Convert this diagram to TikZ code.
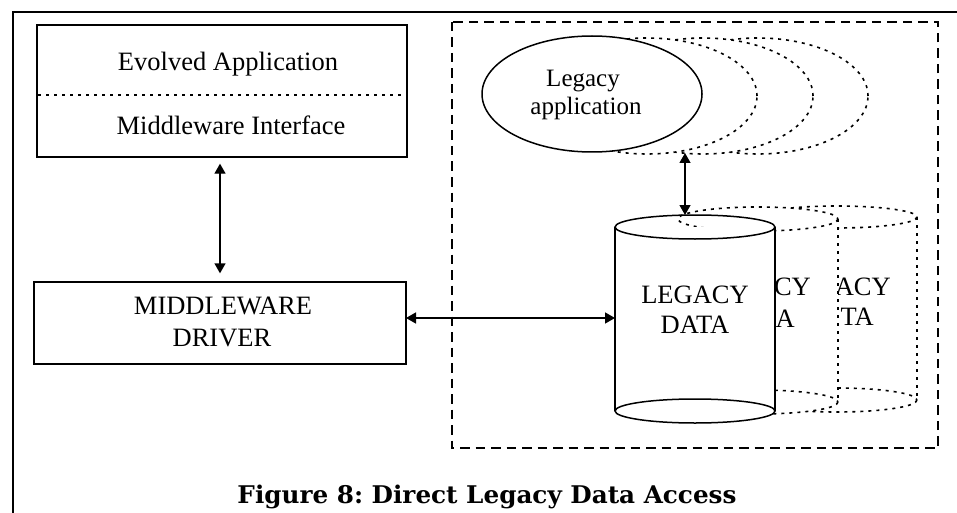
\documentclass[tikz,border=0pt]{standalone}
\usepackage{graphicx}
\usepackage{fontspec}
\setmainfont{Liberation Serif}
\newfontfamily\capfont{DejaVu Serif}
\usetikzlibrary{arrows.meta,shapes.geometric}
\frenchspacing
\tikzset{
  solidbox/.style={draw, line width=1.4pt, inner sep=0pt, fill=white},
  dotline/.style={line width=1.6pt, dash pattern=on 3pt off 5pt},
  dashline/.style={line width=1.6pt, dash pattern=on 9.5pt off 6pt},
  biarrow/.style={line width=1.4pt, {Triangle[length=10pt,width=11pt]}-{Triangle[length=10pt,width=11pt]}},
  lbl/.style={font=\fontsize{26.5}{32}\selectfont, inner sep=0pt, anchor=base},
  frag/.style={font=\fontsize{26.5}{32}\selectfont, inner sep=0pt, anchor=base east},
  applbl/.style={font=\fontsize{25}{30}\selectfont, inner sep=0pt, anchor=base},
  backell/.style={ellipse, draw, dotline, fill=white, minimum width=220pt, minimum height=116pt, inner sep=0pt},
  frontell/.style={ellipse, draw, line width=1.5pt, fill=white, minimum width=220pt, minimum height=116pt, inner sep=0pt},
  cylfill/.style={fill=white},
  cylsolid/.style={line width=1.5pt},
}
\begin{document}
\begin{tikzpicture}[x=1pt,y=-1pt]
\useasboundingbox (0,0) rectangle (957,513);
% outer frame
\draw[line width=1.4pt] (13,513) -- (13,12) -- (957,12);
% dashed region
\draw[dashline] (452,22) rectangle (938,448);

% left boxes
\node[solidbox, minimum width=370pt, minimum height=132pt] (evolved) at (222,91) {};
\coordinate (sepL) at (38,95);
\coordinate (sepR) at (406,95);
\draw[dotline] (sepL) -- (sepR);
\node[lbl] (tEvolved) at (228,71) {Evolved Application};
\node[lbl] (tInterface) at (231,135) {Middleware Interface};

\node[solidbox, minimum width=372pt, minimum height=82pt] (mw) at (220,323) {};
\node[lbl] (tMw1) at (223,314) {MIDDLEWARE};
\node[lbl] (tMw2) at (222,346) {DRIVER};

% legacy applications
\node[backell] (app4) at (758,96) {};
\node[backell] (app3) at (703,96) {};
\node[backell] (app2) at (647,96) {};
\node[frontell] (app) at (592,94) {};
\node[applbl] (tApp1) at (583,87) {Legacy};
\node[applbl] (tApp2) at (586,115) {application};

% third (back) cylinder
\fill[cylfill] (757,218) rectangle (917,400);
\fill[cylfill] (837,400) ellipse [x radius=80, y radius=12];
\fill[cylfill] (837,217) ellipse [x radius=80, y radius=11];
\draw[dotline] (837,217) ellipse [x radius=80, y radius=11];
\draw[dotline] (837,400) ellipse [x radius=80, y radius=12];
\draw[dotline] (917,217) -- (917,400);
\node[frag] (tData3a) at (891,295) {ACY};
\node[frag] (tData3b) at (874,325) {TA};

% second cylinder
\fill[cylfill] (678,220) rectangle (838,402);
\fill[cylfill] (758,402) ellipse [x radius=80, y radius=12];
\fill[cylfill] (758,219) ellipse [x radius=80, y radius=12];
\draw[dotline] (758,219) ellipse [x radius=80, y radius=12];
\draw[dotline] (758,402) ellipse [x radius=80, y radius=12];
\draw[dotline] (838,219) -- (838,402);
\node[frag] (tData2a) at (811,295) {CY};
\node[frag] (tData2b) at (795,327) {A};

% front cylinder
\fill[cylfill] (615,227) rectangle (775,411);
\fill[cylfill] (695,411) ellipse [x radius=80, y radius=12];
\draw[cylsolid] (695,227) ellipse [x radius=80, y radius=12];
\draw[cylsolid] (695,411) ellipse [x radius=80, y radius=12];
\draw[cylsolid] (615,227) -- (615,411);
\draw[cylsolid] (775,227) -- (775,411);
\node[inner sep=0pt, minimum width=160pt, minimum height=208pt] (data) at (695,319) {};
\node[lbl] (tData1a) at (695,303) {LEGACY};
\node[lbl] (tData1b) at (695,333) {DATA};

% connectors
\draw[biarrow, shorten <=6pt, shorten >=8pt] (evolved.south -| mw.north) -- (mw.north);
\coordinate (mwE) at (406,318);
\coordinate (dataW) at (615,318);
\draw[biarrow] (mwE) -- (dataW);
\coordinate (appS) at (685,153);
\coordinate (dataN) at (685,215);
\draw[biarrow] (appS) -- (dataN);

% caption
\node[anchor=base, inner sep=0pt] (caption) at (487,503)
  {\resizebox{499pt}{18.5pt}{\capfont\bfseries Figure 8: Direct Legacy Data Access}};
\end{tikzpicture}
\end{document}
